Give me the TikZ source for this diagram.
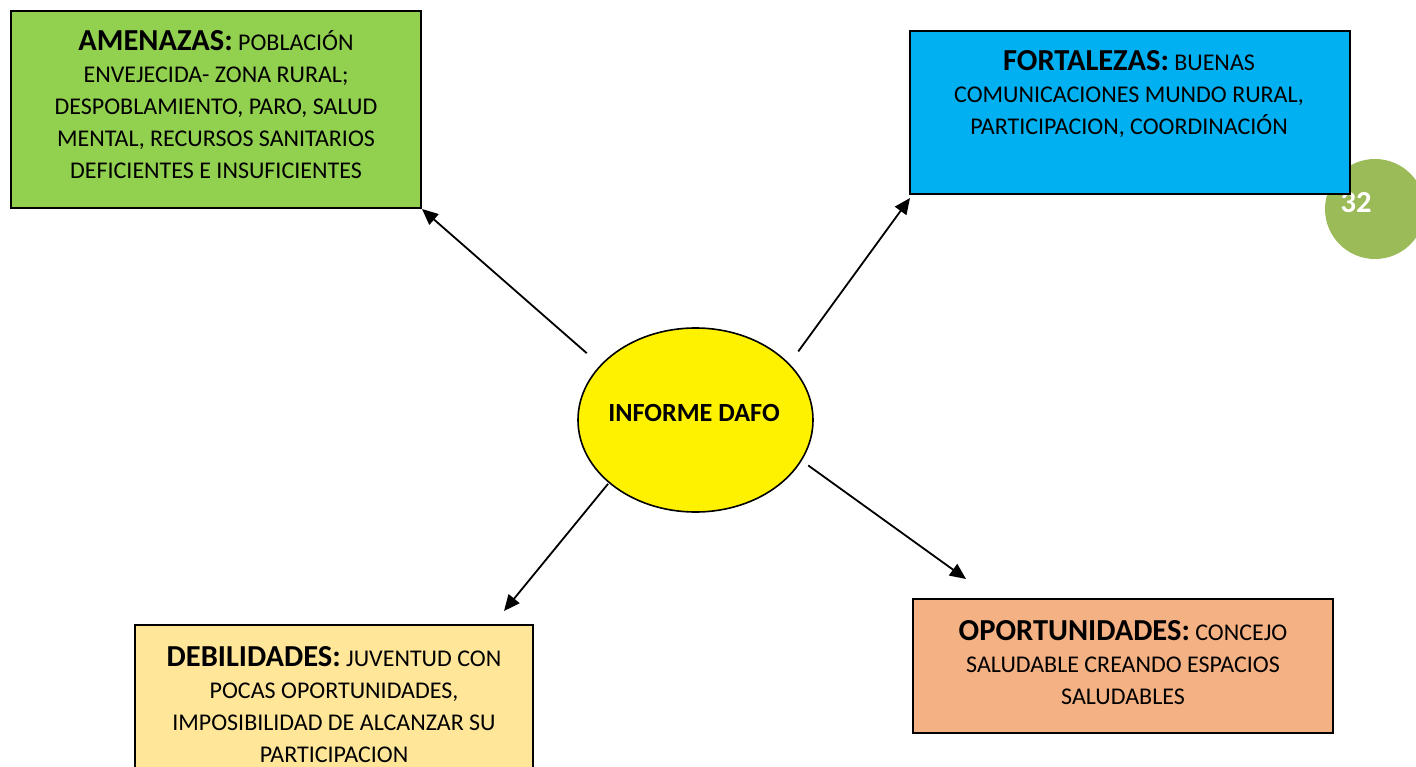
\documentclass[tikz,border=0pt]{standalone}
\usepackage{fontspec}
\setmainfont{Carlito}
\usetikzlibrary{shapes.geometric,arrows.meta}
\definecolor{amenfill}{HTML}{92D050}
\definecolor{fortfill}{HTML}{00B0F0}
\definecolor{debfill}{HTML}{FFE699}
\definecolor{oporfill}{HTML}{F4B183}
\definecolor{pagegreen}{HTML}{9BBB59}
\newcommand\dafohead[1]{{\fontsize{30.5}{32}\selectfont\bfseries #1}}
\tikzset{
  box/.style={draw=black, line width=2pt, rectangle, inner sep=0pt},
  txt/.style={align=center, inner sep=0pt, font=\fontsize{24}{32}\selectfont},
  arr/.style={draw=black, line width=1.8pt, -{Triangle[length=16pt,width=14pt]}}
}
\begin{document}
\begin{tikzpicture}[x=1pt,y=-1pt]
\useasboundingbox (0,0) rectangle (1416,767);
\clip (0,0) rectangle (1416,767);
\fill[white] (0,0) rectangle (1416,767);
% page number
\node[circle, fill=pagegreen, minimum size=100pt, inner sep=0pt] (pg) at (1375,209) {};
\node[inner sep=0pt, text=white, font=\fontsize{30.5}{32}\selectfont\bfseries] (pgnum) at (1356,203) {32};
% boxes
\node[box, fill=amenfill, minimum width=410pt, minimum height=197pt] (amen) at (216,109.5) {};
\node[box, fill=fortfill, minimum width=440pt, minimum height=163pt] (fort) at (1130,112.5) {};
\node[box, fill=debfill, minimum width=398pt, minimum height=162pt] (deb) at (334,706) {};
\node[box, fill=oporfill, minimum width=420pt, minimum height=134pt] (opor) at (1123,666) {};
% texts
\node[txt] (amenT) at (216,105) {\dafohead{AMENAZAS:} POBLACIÓN\\ENVEJECIDA- ZONA RURAL;\\DESPOBLAMIENTO, PARO, SALUD\\MENTAL, RECURSOS SANITARIOS\\DEFICIENTES E INSUFICIENTES};
\node[txt] (fortT) at (1129,94) {\dafohead{FORTALEZAS:} BUENAS\\COMUNICACIONES MUNDO RURAL,\\PARTICIPACION, COORDINACIÓN};
\node[txt] (debT) at (334,704.5) {\dafohead{DEBILIDADES:} JUVENTUD CON\\POCAS OPORTUNIDADES,\\IMPOSIBILIDAD DE ALCANZAR SU\\PARTICIPACION};
\node[txt] (oporT) at (1123,663) {\dafohead{OPORTUNIDADES:} CONCEJO\\SALUDABLE CREANDO ESPACIOS\\SALUDABLES};
% centre
\node[ellipse, draw=black, line width=1.6pt, fill=yellow, minimum width=235pt, minimum height=184pt, inner sep=0pt] (dafo) at (695.5,420) {};
\node[inner sep=0pt, font=\fontsize{26.2}{30}\selectfont\bfseries] (dafoT) at (694,413) {INFORME DAFO};
% arrows
\draw[arr, shorten <=18pt] (dafo.150.9) -- (amen.south east);
\draw[arr, shorten <=15pt] (dafo.31.7) -- ([shift={(1,3)}]fort.south west);
\draw[arr, shorten <=1pt] (dafo.216.1) -- ([shift={(-30,-13)}]deb.north east);
\draw[arr, shorten <=8pt] (dafo.339.5) -- ([shift={(54,-19)}]opor.north west);
\end{tikzpicture}
\end{document}
